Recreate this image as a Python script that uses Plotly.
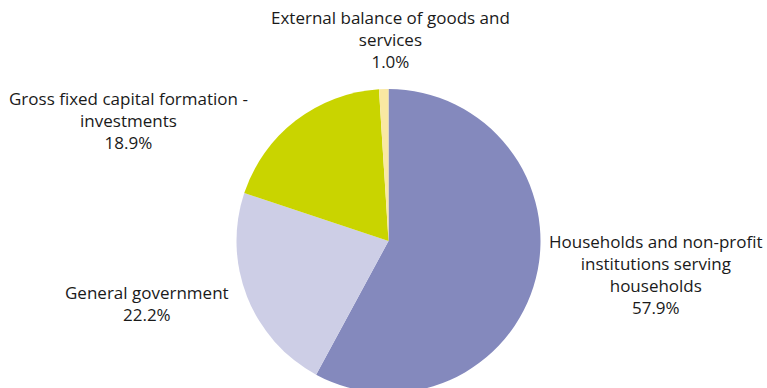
import plotly.graph_objects as go

categories = [
    "Households and non-profit<br>institutions serving<br>households",
    "General government",
    "Gross fixed capital formation -<br>investments",
    "External balance of goods and<br>services",
]
values = [57.9, 22.2, 18.9, 1.0]
colors = ["#8489bd", "#cdcee6", "#c9d400", "#f9e8a2"]

# label centres in pixels (x, y from top)
label_pos = [(656, 274), (147, 303), (128, 120), (390, 40)]

W, H = 767, 400

fig = go.Figure(go.Pie(
    labels=categories,
    values=values,
    marker=dict(colors=colors, line=dict(width=0)),
    sort=False,
    direction="clockwise",
    rotation=0,
    textinfo="none",
    hoverinfo="label+percent",
    domain=dict(x=[236.5 / W, 540.5 / W], y=[(H - 393) / H, (H - 89) / H]),
    showlegend=False,
))

for cat, val, (px, py) in zip(categories, values, label_pos):
    fig.add_annotation(
        x=px / W, y=(H - py) / H, xref="paper", yref="paper",
        text=f"{cat}<br>{val:.1f}%", showarrow=False,
        xanchor="center", yanchor="middle", align="center",
        font=dict(family="Open Sans, sans-serif", size=17, color="#1a1a1a"),
    )

fig.update_layout(
    width=W, height=H,
    margin=dict(l=0, r=0, t=0, b=0),
    paper_bgcolor="white", plot_bgcolor="white",
)

fig.write_html("out.html")
